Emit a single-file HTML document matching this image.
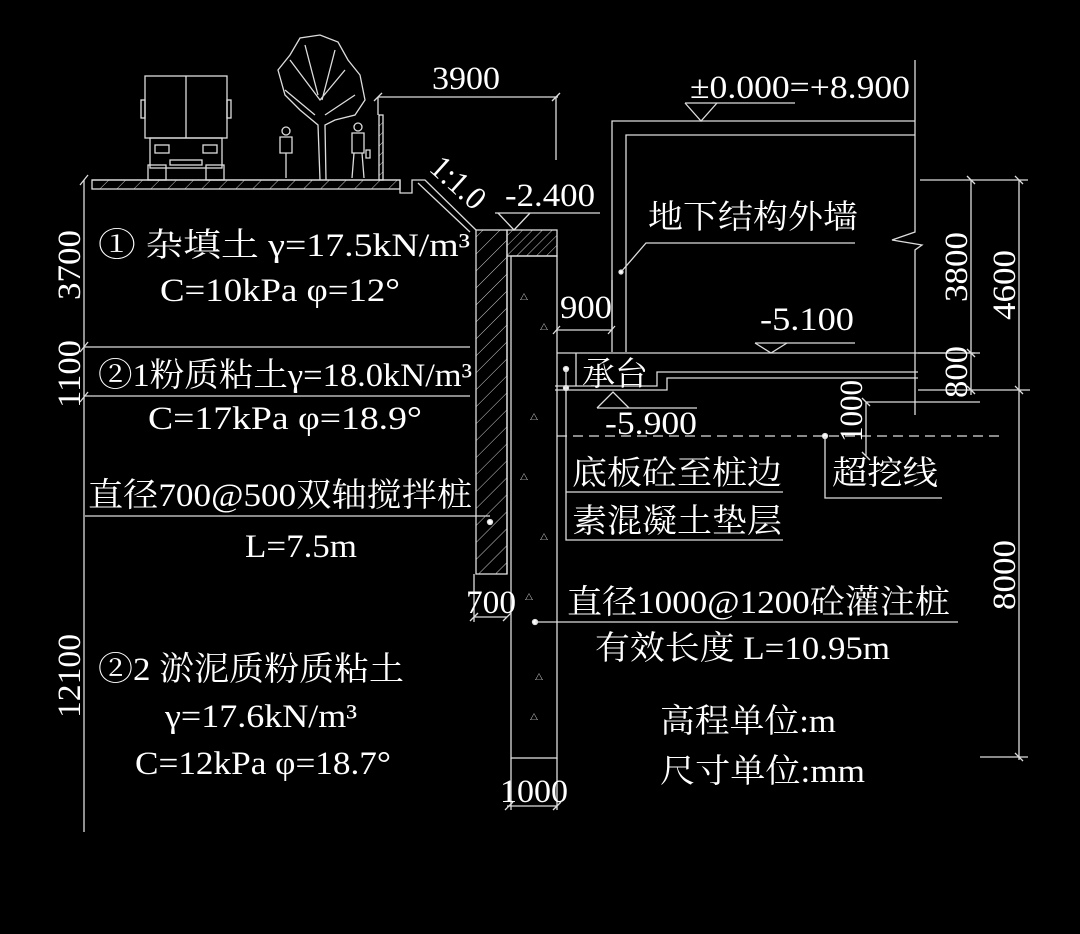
<!DOCTYPE html>
<html><head><meta charset="utf-8"><style>
html,body{margin:0;padding:0;background:#000;width:1080px;height:934px;overflow:hidden}
svg{display:block}
text{fill:#fff;font-family:"Liberation Serif","Noto Serif CJK SC","Noto Sans CJK SC",serif;font-size:33px}
</style></head><body>
<svg width="1080" height="934" viewBox="0 0 1080 934" xmlns="http://www.w3.org/2000/svg">
<defs>
<pattern id="h" width="12" height="12" patternUnits="userSpaceOnUse" patternTransform="rotate(45)">
<line x1="0" y1="0" x2="0" y2="12" stroke="#ccc" stroke-width="1"/></pattern>
<pattern id="h2" width="7" height="7" patternUnits="userSpaceOnUse" patternTransform="rotate(45)">
<line x1="0" y1="0" x2="0" y2="7" stroke="#ccc" stroke-width="1"/></pattern>
</defs>
<g stroke="#ddd" stroke-width="1.3" fill="none">
<line x1="84" y1="180" x2="84" y2="832"/>
<line x1="80" y1="185" x2="88" y2="175"/>
<line x1="80" y1="352" x2="88" y2="342"/>
<line x1="80" y1="402" x2="88" y2="392"/>
<line x1="84" y1="347" x2="470" y2="347"/>
<line x1="84" y1="396" x2="470" y2="396"/>
<line x1="85" y1="516" x2="490" y2="516"/>
<rect x="92" y="180" width="308" height="9" fill="url(#h)"/>
<polyline points="92,180 400,180 400,193 412,193 412,180 425,180 476,230"/>
<line x1="418" y1="183" x2="470" y2="232"/>
<rect x="145" y="76" width="82" height="62"/>
<line x1="186" y1="76" x2="186" y2="138"/>
<rect x="150" y="138" width="72" height="30"/>
<rect x="155" y="145" width="14" height="8"/><rect x="203" y="145" width="14" height="8"/>
<rect x="170" y="160" width="32" height="5"/>
<rect x="148" y="165" width="18" height="15"/><rect x="206" y="165" width="18" height="15"/>
<rect x="141" y="100" width="4" height="18"/><rect x="227" y="100" width="4" height="18"/>
<path d="M320,180 L318,125 L300,110 L285,95 L278,70 L290,55 L300,38 L320,35 L338,42 L348,60 L360,75 L365,100 L355,115 L335,120 L325,125 L326,180"/>
<path d="M290,60 L320,100 L345,70 M305,45 L318,95 M335,50 L322,100 M285,90 L315,115 M355,95 L325,115"/>
<circle cx="286" cy="131" r="4"/><path d="M280,137 h12 v16 h-12z M286,153 v25"/>
<circle cx="358" cy="127" r="4"/><path d="M352,133 h12 v20 h-12z M354,153 l-2,25 M362,153 l2,25 M366,150 h4 v8 h-4z"/>
<rect x="379" y="115" width="4" height="65" fill="url(#h2)"/>
<line x1="378" y1="97" x2="558" y2="97"/>
<line x1="378" y1="97" x2="378" y2="115"/><line x1="556" y1="97" x2="556" y2="160"/>
<line x1="374" y1="101" x2="382" y2="93"/><line x1="552" y1="101" x2="560" y2="93"/>
<rect x="476" y="230" width="31" height="344" fill="url(#h)"/>
<rect x="507" y="230" width="50" height="26" fill="url(#h2)"/>
<rect x="511" y="256" width="46" height="502"/>
<line x1="507" y1="256" x2="507" y2="574"/>
<line x1="495" y1="213" x2="600" y2="213"/>
<polyline points="498,213 514,230 530,213"/>
<polyline points="612,352 612,121 915,121"/>
<polyline points="626,352 626,135 915,135"/>
<polyline points="915,60 915,232 892,240 922,245 915,250 915,415"/>
<polyline points="621,272 646,243 855,243"/>
<circle cx="621" cy="272" r="2" fill="#fff"/>
<line x1="685" y1="103" x2="795" y2="103"/>
<polyline points="685,103 701,121 717,103"/>
<line x1="557" y1="353" x2="975" y2="353"/>
<polyline points="576,353 576,386"/>
<polyline points="555,386 657,386 657,372 918,372"/>
<polyline points="555,390 667,390 667,378 918,378"/>
<circle cx="566" cy="369" r="2.5" fill="#fff"/><circle cx="566" cy="388" r="2.5" fill="#fff"/>
<polyline points="566,369 566,540 783,540"/>
<line x1="566" y1="492" x2="783" y2="492"/>
<line x1="755" y1="343" x2="855" y2="343"/>
<polyline points="755,343 771,353 787,343"/>
<line x1="597" y1="408" x2="697" y2="408"/>
<polyline points="597,408 613,392 629,408"/>
<line x1="556" y1="330" x2="612" y2="330"/>
<line x1="553" y1="334" x2="560" y2="326"/><line x1="608" y1="334" x2="615" y2="326"/>
<line x1="612" y1="280" x2="612" y2="330"/>
<line x1="557" y1="436" x2="1000" y2="436" stroke-dasharray="10,6"/>
<circle cx="825" cy="436" r="2.5" fill="#fff"/>
<polyline points="825,436 825,498 942,498"/>
<line x1="866" y1="402" x2="866" y2="456"/>
<line x1="862" y1="398" x2="870" y2="406"/><line x1="862" y1="452" x2="870" y2="460"/>
<line x1="866" y1="402" x2="980" y2="402"/>
<line x1="920" y1="180" x2="1028" y2="180"/>
<line x1="918" y1="353" x2="980" y2="353"/>
<line x1="918" y1="390" x2="1030" y2="390"/>
<line x1="980" y1="757" x2="1028" y2="757"/>
<line x1="971" y1="180" x2="971" y2="395"/>
<line x1="1019" y1="180" x2="1019" y2="760"/>
<g><line x1="967" y1="176" x2="975" y2="184"/><line x1="967" y1="349" x2="975" y2="357"/><line x1="967" y1="386" x2="975" y2="394"/>
<line x1="1015" y1="176" x2="1023" y2="184"/><line x1="1015" y1="386" x2="1023" y2="394"/><line x1="1015" y1="753" x2="1023" y2="761"/></g>
<circle cx="490" cy="522" r="2.5" fill="#fff"/>
<circle cx="535" cy="622" r="2.5" fill="#fff"/>
<line x1="535" y1="622" x2="958" y2="622"/>
<line x1="474" y1="617" x2="507" y2="617"/>
<line x1="474" y1="574" x2="474" y2="622"/>
<line x1="470" y1="621" x2="478" y2="613"/><line x1="503" y1="621" x2="511" y2="613"/>
<line x1="507" y1="806" x2="557" y2="806"/>
<line x1="511" y1="758" x2="511" y2="810"/><line x1="557" y1="758" x2="557" y2="810"/>
<line x1="505" y1="810" x2="513" y2="802"/><line x1="553" y1="810" x2="561" y2="802"/>
</g>
<g fill="#bbb">
<text x="520" y="300" style="font-size:8px">△</text><text x="540" y="330" style="font-size:8px">△</text>
<text x="530" y="420" style="font-size:8px">△</text><text x="520" y="480" style="font-size:8px">△</text>
<text x="540" y="540" style="font-size:8px">△</text><text x="525" y="600" style="font-size:8px">△</text>
<text x="535" y="680" style="font-size:8px">△</text><text x="530" y="720" style="font-size:8px">△</text>
</g>
<text x="432" y="89" textLength="68" lengthAdjust="spacingAndGlyphs">3900</text>
<text x="690" y="98" textLength="220" lengthAdjust="spacingAndGlyphs">±0.000=+8.900</text>
<text x="505" y="206" textLength="90" lengthAdjust="spacingAndGlyphs">-2.400</text>
<text transform="translate(428,170) rotate(42)" textLength="62" lengthAdjust="spacingAndGlyphs">1:1.0</text>
<text x="648" y="228" textLength="210" lengthAdjust="spacingAndGlyphs">地下结构外墙</text>
<text x="560" y="318" textLength="52" lengthAdjust="spacingAndGlyphs">900</text>
<text x="760" y="330" textLength="94" lengthAdjust="spacingAndGlyphs">-5.100</text>
<text x="582" y="385" textLength="66" lengthAdjust="spacingAndGlyphs">承台</text>
<text x="605" y="434" textLength="92" lengthAdjust="spacingAndGlyphs">-5.900</text>
<text x="572" y="484" textLength="210" lengthAdjust="spacingAndGlyphs">底板砼至桩边</text>
<text x="572" y="532" textLength="210" lengthAdjust="spacingAndGlyphs">素混凝土垫层</text>
<text x="832" y="484" textLength="106" lengthAdjust="spacingAndGlyphs">超挖线</text>
<text x="98" y="256" textLength="372" lengthAdjust="spacingAndGlyphs">① 杂填土 γ=17.5kN/m³</text>
<text x="160" y="301" textLength="240" lengthAdjust="spacingAndGlyphs">C=10kPa  φ=12°</text>
<text x="98" y="386" textLength="374" lengthAdjust="spacingAndGlyphs">②1粉质粘土γ=18.0kN/m³</text>
<text x="148" y="429" textLength="274" lengthAdjust="spacingAndGlyphs">C=17kPa   φ=18.9°</text>
<text x="88" y="506" textLength="384" lengthAdjust="spacingAndGlyphs">直径700@500双轴搅拌桩</text>
<text x="245" y="557" textLength="112" lengthAdjust="spacingAndGlyphs">L=7.5m</text>
<text x="98" y="680" textLength="306" lengthAdjust="spacingAndGlyphs">②2 淤泥质粉质粘土</text>
<text x="165" y="727" textLength="192" lengthAdjust="spacingAndGlyphs">γ=17.6kN/m³</text>
<text x="135" y="774" textLength="256" lengthAdjust="spacingAndGlyphs">C=12kPa φ=18.7°</text>
<text x="466" y="613" textLength="50" lengthAdjust="spacingAndGlyphs">700</text>
<text x="567" y="613" textLength="383" lengthAdjust="spacingAndGlyphs">直径1000@1200砼灌注桩</text>
<text x="595" y="659" textLength="295" lengthAdjust="spacingAndGlyphs">有效长度 L=10.95m</text>
<text x="660" y="732" textLength="176" lengthAdjust="spacingAndGlyphs">高程单位:m</text>
<text x="660" y="782" textLength="205" lengthAdjust="spacingAndGlyphs">尺寸单位:mm</text>
<text x="500" y="802" textLength="68" lengthAdjust="spacingAndGlyphs">1000</text>
<text transform="translate(80,300) rotate(-90)" textLength="70" lengthAdjust="spacingAndGlyphs">3700</text>
<text transform="translate(80,408) rotate(-90)" textLength="68" lengthAdjust="spacingAndGlyphs">1100</text>
<text transform="translate(80,718) rotate(-90)" textLength="84" lengthAdjust="spacingAndGlyphs">12100</text>
<text transform="translate(967,302) rotate(-90)" textLength="70" lengthAdjust="spacingAndGlyphs">3800</text>
<text transform="translate(967,398) rotate(-90)" textLength="52" lengthAdjust="spacingAndGlyphs">800</text>
<text transform="translate(1015,320) rotate(-90)" textLength="70" lengthAdjust="spacingAndGlyphs">4600</text>
<text transform="translate(1015,610) rotate(-90)" textLength="70" lengthAdjust="spacingAndGlyphs">8000</text>
<text transform="translate(862,442) rotate(-90)" textLength="62" lengthAdjust="spacingAndGlyphs">1000</text>
</svg>
</body></html>
